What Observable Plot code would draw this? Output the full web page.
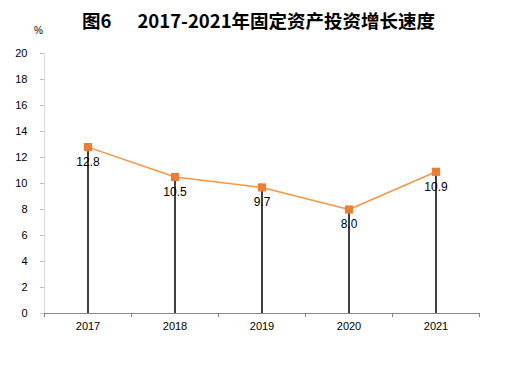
<!DOCTYPE html>
<html>
<head>
<meta charset="utf-8">
<script src="https://cdn.jsdelivr.net/npm/d3@7"></script>
<script src="https://cdn.jsdelivr.net/npm/@observablehq/plot@0.6"></script>
<style>
  html, body { margin: 0; padding: 0; background: #fff; }
  #wrap { position: relative; width: 514px; height: 372px; overflow: hidden; }
  #title { position: absolute; left: 82px; top: 8px; font-family: "Noto Sans CJK SC", sans-serif; font-weight: bold; font-size: 18.5px; color: #000; white-space: nowrap; line-height: 24px; }
  #unit { position: absolute; left: 34px; top: 25px; font-family: "Liberation Sans", sans-serif; font-size: 10px; color: #000; }
  #chart { position: absolute; left: 0; top: 0; }
</style>
</head>
<body>
<div id="wrap">
  <div id="chart"></div>
  <div id="title"><span>图6</span><span style="margin-left:26px">2017-2021年固定资产投资增长速度</span></div>
  <div id="unit">%</div>
</div>
<script>
const years = [2017, 2018, 2019, 2020, 2021];
const values = [12.8, 10.5, 9.7, 8.0, 10.9];
const labels = ["12.8", "10.5", "9.7", "8.0", "10.9"];
const yTicks = [0, 2, 4, 6, 8, 10, 12, 14, 16, 18, 20];

const data = years.map((y, i) => ({year: y, value: values[i], label: labels[i]}));
const bounds = d3.range(years.length + 1).map(i => years[0] - 0.5 + i);

const chart = Plot.plot({
  width: 514,
  height: 372,
  marginTop: 53,
  marginBottom: 59,
  marginLeft: 44,
  marginRight: 35,
  style: {fontFamily: "Liberation Sans, sans-serif", fontSize: "11px", color: "#000", background: "transparent"},
  x: {type: "linear", domain: [bounds[0], bounds[bounds.length - 1]]},
  y: {domain: [0, 20]},
  marks: [
    Plot.axisY({ticks: yTicks, tickSize: 4, tickPadding: 13, stroke: "#bfbfbf", fill: "#000", label: null, fontSize: 11}),
    Plot.ruleX([bounds[0]], {stroke: "#d9d9d9", strokeWidth: 1}),
    Plot.axisX({ticks: bounds, tickSize: 4, tickFormat: () => "", stroke: "#888", label: null}),
    Plot.axisX({ticks: years, tickSize: 0, tickPadding: 9, tickFormat: d => String(d), fill: "#000", label: null, fontSize: 11}),
    Plot.ruleY([0], {stroke: "#888", strokeWidth: 1.2}),
    Plot.ruleX(data, {x: "year", y1: 0, y2: "value", stroke: "#000", strokeWidth: 1.5}),
    Plot.line(data, {x: "year", y: "value", stroke: "#F79646", strokeWidth: 1.5}),
    Plot.dot(data, {x: "year", y: "value", symbol: "square", r: 4.6, fill: "#ED7D31", stroke: "none"}),
    Plot.text(data, {x: "year", y: "value", text: "label", dy: 15, fill: "#000", fontSize: 12})
  ]
});
document.getElementById("chart").appendChild(chart);
</script>
</body>
</html>
